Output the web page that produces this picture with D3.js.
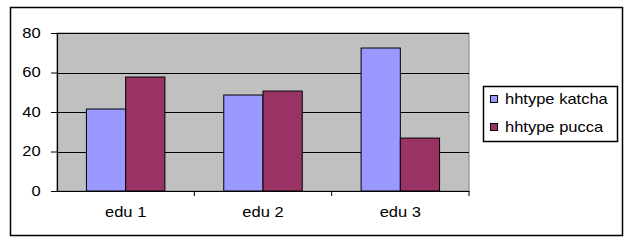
<!DOCTYPE html>
<html>
<head>
<meta charset="utf-8">
<script src="https://cdn.jsdelivr.net/npm/d3@7"></script>
<style>
  body { margin: 0; background: #fff; }
  text { font-family: Arial, "Liberation Sans", sans-serif; fill: #000; }
</style>
</head>
<body>
<div id="chart"></div>
<script>
const categories = ['edu 1', 'edu 2', 'edu 3'];
const seriesNames = ['hhtype katcha', 'hhtype pucca'];
const katcha = [41.5, 48.6, 72.4];
const pucca = [57.7, 50.6, 26.8];
const yTicks = [0, 20, 40, 60, 80];

const colors = ['#9999ff', '#993366'];
const width = 631, height = 249;
const plot = { left: 57, right: 469, top: 33, bottom: 191 };
const stretch = 1.18;

const svg = d3.select('#chart').append('svg')
  .attr('width', width)
  .attr('height', height);

// outer frame
svg.append('rect')
  .attr('x', 10.5).attr('y', 7.5)
  .attr('width', 612).attr('height', 228)
  .attr('fill', '#fff').attr('stroke', '#000').attr('stroke-width', 1.5);

const x0 = d3.scaleBand()
  .domain(categories)
  .range([plot.left, plot.right])
  .padding(0);

// gap width 150%: two bars take 2 of 3.5 bar widths in each band
const x1 = d3.scaleBand()
  .domain(seriesNames)
  .range([x0.bandwidth() * 0.75 / 3.5, x0.bandwidth() * 2.75 / 3.5]);

const y = d3.scaleLinear()
  .domain([0, 80])
  .range([plot.bottom, plot.top]);

// plot background
svg.append('rect')
  .attr('x', plot.left).attr('y', plot.top)
  .attr('width', plot.right - plot.left).attr('height', plot.bottom - plot.top)
  .attr('fill', '#c0c0c0').attr('stroke', '#808080');

// gridlines
svg.append('g')
  .selectAll('line')
  .data(yTicks.filter(d => d > 0))
  .join('line')
  .attr('x1', plot.left).attr('x2', plot.right)
  .attr('y1', d => Math.round(y(d)) + 0.5).attr('y2', d => Math.round(y(d)) + 0.5)
  .attr('stroke', '#000').attr('stroke-width', 1.2);

const data = categories.map((c, i) => ({ cat: c, values: [
  { name: seriesNames[0], value: katcha[i] },
  { name: seriesNames[1], value: pucca[i] }
]}));

svg.append('g')
  .selectAll('g')
  .data(data)
  .join('g')
  .attr('transform', d => `translate(${x0(d.cat)},0)`)
  .selectAll('rect')
  .data(d => d.values)
  .join('rect')
  .attr('x', d => x1(d.name))
  .attr('y', d => y(d.value))
  .attr('width', x1.bandwidth())
  .attr('height', d => y(0) - y(d.value))
  .attr('fill', (d, i) => colors[i])
  .attr('stroke', '#000').attr('stroke-width', 1);

// y axis
const yAxis = svg.append('g')
  .attr('transform', `translate(${plot.left},0)`)
  .call(d3.axisLeft(y).tickValues(yTicks).tickSize(6).tickPadding(6).tickFormat(d3.format('d')));
yAxis.select('.domain').attr('stroke', '#000').attr('stroke-width', 1.2);
yAxis.selectAll('.tick line').attr('stroke', '#000');
yAxis.selectAll('text')
  .style('font-size', '14px')
  .attr('transform', `translate(${-12 * (stretch - 1)},0) scale(${stretch},1)`);

// x axis
const xAxis = svg.append('g')
  .attr('transform', `translate(0,${plot.bottom})`)
  .call(d3.axisBottom(x0).tickSize(0).tickPadding(16));
xAxis.select('.domain').attr('stroke', '#000').attr('stroke-width', 1.2);
xAxis.selectAll('text')
  .style('font-size', '14px')
  .attr('transform', `scale(${stretch},1)`);

// category separator ticks
xAxis.append('g')
  .selectAll('line')
  .data([x0('edu 2'), x0('edu 3'), plot.right])
  .join('line')
  .attr('x1', d => d).attr('x2', d => d)
  .attr('y1', 0).attr('y2', 5)
  .attr('stroke', '#000');

// legend
const legend = svg.append('g').attr('transform', 'translate(483,86)');
legend.append('rect')
  .attr('x', 0.5).attr('y', 0.5).attr('width', 134).attr('height', 55)
  .attr('fill', '#fff').attr('stroke', '#000').attr('stroke-width', 1.5);
const items = legend.selectAll('g.item')
  .data(seriesNames)
  .join('g')
  .attr('class', 'item')
  .attr('transform', (d, i) => `translate(0,${13 + i * 28})`);
items.append('rect')
  .attr('x', 7.5).attr('y', -3.5).attr('width', 7).attr('height', 7)
  .attr('fill', (d, i) => colors[i]).attr('stroke', '#000');
items.append('text')
  .attr('transform', `translate(22,5) scale(${stretch},1)`)
  .style('font-size', '14px')
  .text(d => d);
</script>
</body>
</html>
